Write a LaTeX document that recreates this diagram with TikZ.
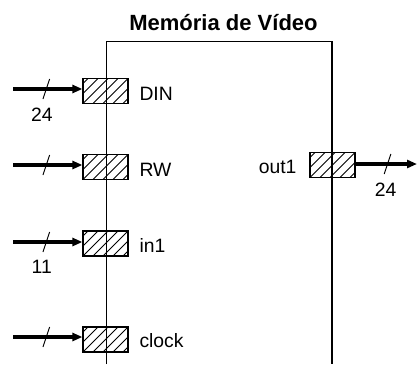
\documentclass[tikz,border=0pt]{standalone}
\usepackage{fontspec}
\setmainfont{Liberation Sans}
\usetikzlibrary{arrows.meta,calc}
\begin{document}
\begin{tikzpicture}[x=0.75pt,y=-0.75pt,
  port/.style={draw,line width=0.9pt,minimum width=33.75pt,minimum height=18.75pt,inner sep=0pt,
    path picture={\foreach \k in {-4,...,5}{\draw[line width=0.6pt] ([xshift=\k*7.5pt]path picture bounding box.south west) -- ++(20pt,20pt);}}},
  bus/.style={line width=2.3pt,-{Triangle[length=7.5pt,width=6pt]}},
  lbl/.style={font=\fontsize{14.5}{17}\selectfont,inner sep=0pt},
  slashmk/.style={line width=0.7pt},
  frame/.style={line width=1.1pt},
]
\useasboundingbox (0,0) rectangle (417,364);
% title and block outline
\node[font=\bfseries\fontsize{16.5}{20}\selectfont] (title) at (223.5,23) {Memória de Vídeo};
\draw[frame] (106.5,364) -- (106.5,41.5) -- (332,41.5) -- (332,364);
% ports
\node[port] (DIN) at (105.5,91) {};
\node[port] (RW) at (105.5,167) {};
\node[port] (in1) at (105.5,243.5) {};
\node[port] (clock) at (105.5,339.5) {};
\node[port] (out1) at (332.5,165) {};
% port labels
\node[lbl,anchor=base west] (tDIN) at ([xshift=8pt,yshift=-6.75pt]DIN.east) {DIN};
\node[lbl,anchor=base west] (tRW) at ([xshift=8pt,yshift=-6.75pt]RW.east) {RW};
\node[lbl,anchor=base west] (tin1) at ([xshift=8pt,yshift=-6.5pt]in1.east) {in1};
\node[lbl,anchor=base west] (tclock) at ([xshift=8pt,yshift=-6pt]clock.east) {clock};
\node[lbl,anchor=base east] (tout1) at ([xshift=-9.5pt,yshift=-6pt]out1.west) {out1};
% input buses
\coordinate (sDIN) at (13,89);
\coordinate (sRW) at (13,165);
\coordinate (sin1) at (13,242);
\coordinate (sclock) at (13,337);
\draw[bus] (sDIN) -- coordinate[pos=0.48] (mDIN) (sDIN -| DIN.west);
\draw[bus] (sRW) -- coordinate[pos=0.48] (mRW) (sRW -| RW.west);
\draw[bus] (sin1) -- coordinate[pos=0.48] (min1) (sin1 -| in1.west);
\draw[bus] (sclock) -- coordinate[pos=0.48] (mclock) (sclock -| clock.west);
% output bus
\coordinate (eOut) at (417,164);
\draw[bus] (out1.east |- eOut) -- coordinate[pos=0.52] (mOut) (eOut);
% bus slashes
\foreach \m in {mDIN,mRW,min1,mclock,mOut}{
  \draw[slashmk] ([xshift=2.5pt,yshift=7.5pt]\m) -- ([xshift=-2.5pt,yshift=-7.5pt]\m);
}
% bus widths
\node[lbl] (wDIN) at ([xshift=-3.4pt,yshift=-19pt]mDIN) {24};
\node[lbl] (win1) at ([xshift=-3.4pt,yshift=-19pt]min1) {11};
\node[lbl] (wOut) at ([xshift=-1.5pt,yshift=-19.5pt]mOut) {24};
\end{tikzpicture}
\end{document}
